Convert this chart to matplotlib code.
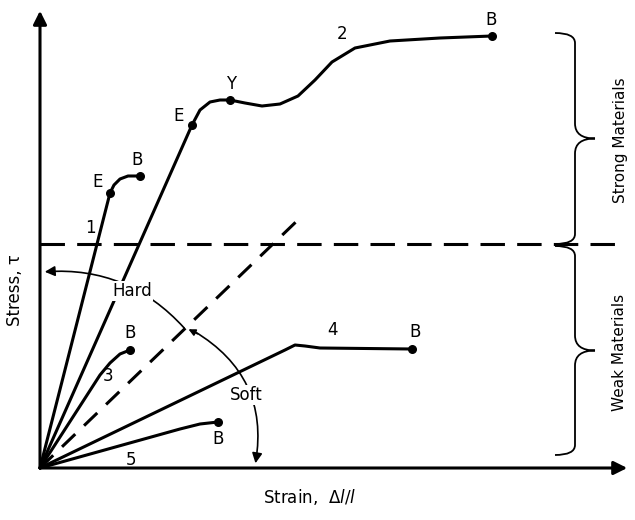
import numpy as np
import matplotlib.pyplot as plt
from matplotlib.patches import FancyArrowPatch
from matplotlib.path import Path
from matplotlib.patches import PathPatch

# schematic curves in chart units (x to the right, y downward like the picture)
origin = (40, 468)
c1_x = [40, 110, 114, 120, 128, 140]
c1_y = [468, 193, 185, 179, 176, 176]
c2_x = [40, 192, 200, 210, 220, 230, 245, 262, 280, 298, 315, 332, 355, 390, 440, 492]
c2_y = [468, 125, 110, 102, 100, 100, 103, 106, 104, 96, 80, 62, 48, 41, 38, 36]
c3_x = [40, 100, 110, 120, 130]
c3_y = [468, 375, 363, 354, 350]
c4_x = [40, 285, 295, 305, 320, 412]
c4_y = [468, 350, 345, 346, 348, 349]
c5_x = [40, 180, 200, 218]
c5_y = [468, 429, 424, 422]
end_pts = [(140, 176), (110, 193), (492, 36), (192, 125), (230, 100), (130, 350), (412, 349), (218, 422)]
labels = [("1", 90, 228), ("2", 342, 34), ("3", 108, 376), ("4", 332, 330), ("5", 131, 460),
          ("E", 98, 182), ("B", 137, 160), ("E", 179, 116), ("Y", 231, 84), ("B", 491, 20),
          ("B", 130, 333), ("B", 415, 332), ("B", 218, 439)]

fig = plt.figure(figsize=(6.35, 5.2), dpi=100)
ax = fig.add_axes([0, 0, 1, 1])
ax.set_xlim(0, 635)
ax.set_ylim(520, 0)
ax.axis('off')

lw = 2.2
ax.annotate('', xy=(40, 8), xytext=(40, 470), arrowprops=dict(arrowstyle='-|>', lw=lw, color='black', mutation_scale=20))
ax.annotate('', xy=(630, 468), xytext=(38, 468), arrowprops=dict(arrowstyle='-|>', lw=lw, color='black', mutation_scale=20))

for xs, ys in [(c1_x, c1_y), (c2_x, c2_y), (c3_x, c3_y), (c4_x, c4_y), (c5_x, c5_y)]:
    ax.plot(xs, ys, color='black', lw=lw, solid_capstyle='round')
ax.scatter([p[0] for p in end_pts], [p[1] for p in end_pts], s=30, color='black', zorder=3)

ax.plot([40, 300], [468, 218], color='black', lw=lw, dashes=(6, 4))
ax.plot([40, 625], [244, 244], color='black', lw=lw, dashes=(8, 4))

for t, x, y in labels:
    ax.text(x, y, t, fontsize=12, ha='center', va='center')

# Hard / Soft arcs
ax.add_patch(FancyArrowPatch((186, 330), (42, 272), connectionstyle='arc3,rad=0.25',
                             arrowstyle='-|>', mutation_scale=15, lw=1.2, color='black'))
ax.text(132, 291, 'Hard', fontsize=12, ha='center', va='center',
        bbox=dict(facecolor='white', edgecolor='none', pad=1))
ax.add_patch(FancyArrowPatch((192, 330), (255, 466), connectionstyle='arc3,rad=-0.35',
                             arrowstyle='-|>', mutation_scale=15, lw=1.2, color='black'))
ax.annotate('', xy=(186, 328), xytext=(200, 335), arrowprops=dict(arrowstyle='-|>', lw=1.2, color='black'))
ax.text(246, 395, 'Soft', fontsize=12, ha='center', va='center',
        bbox=dict(facecolor='white', edgecolor='none', pad=1))

def brace(y0, y1, x0=555, w=40):
    ym = (y0 + y1) / 2
    verts = [(x0, y0), (x0 + w / 2, y0), (x0 + w / 2, y0 + 10), (x0 + w / 2, ym - 15),
             (x0 + w / 2, ym), (x0 + w, ym), (x0 + w / 2, ym), (x0 + w / 2, ym + 15),
             (x0 + w / 2, y1 - 10), (x0 + w / 2, y1), (x0, y1)]
    codes = [Path.MOVETO, Path.CURVE3, Path.CURVE3, Path.LINETO, Path.CURVE3, Path.CURVE3,
             Path.CURVE3, Path.CURVE3, Path.LINETO, Path.CURVE3, Path.CURVE3]
    ax.add_patch(PathPatch(Path(verts, codes), fill=False, lw=1.3, color='black'))

brace(33, 244)
brace(246, 455)
ax.text(620, 140, 'Strong Materials', rotation=90, fontsize=11, ha='center', va='center')
ax.text(620, 352, 'Weak Materials', rotation=90, fontsize=11, ha='center', va='center')

ax.text(15, 290, 'Stress, τ', rotation=90, fontsize=12, ha='center', va='center')
ax.text(310, 497, 'Strain,  Δ$l$/$l$', fontsize=12, ha='center', va='center')

fig.savefig('out.png', dpi=100)
